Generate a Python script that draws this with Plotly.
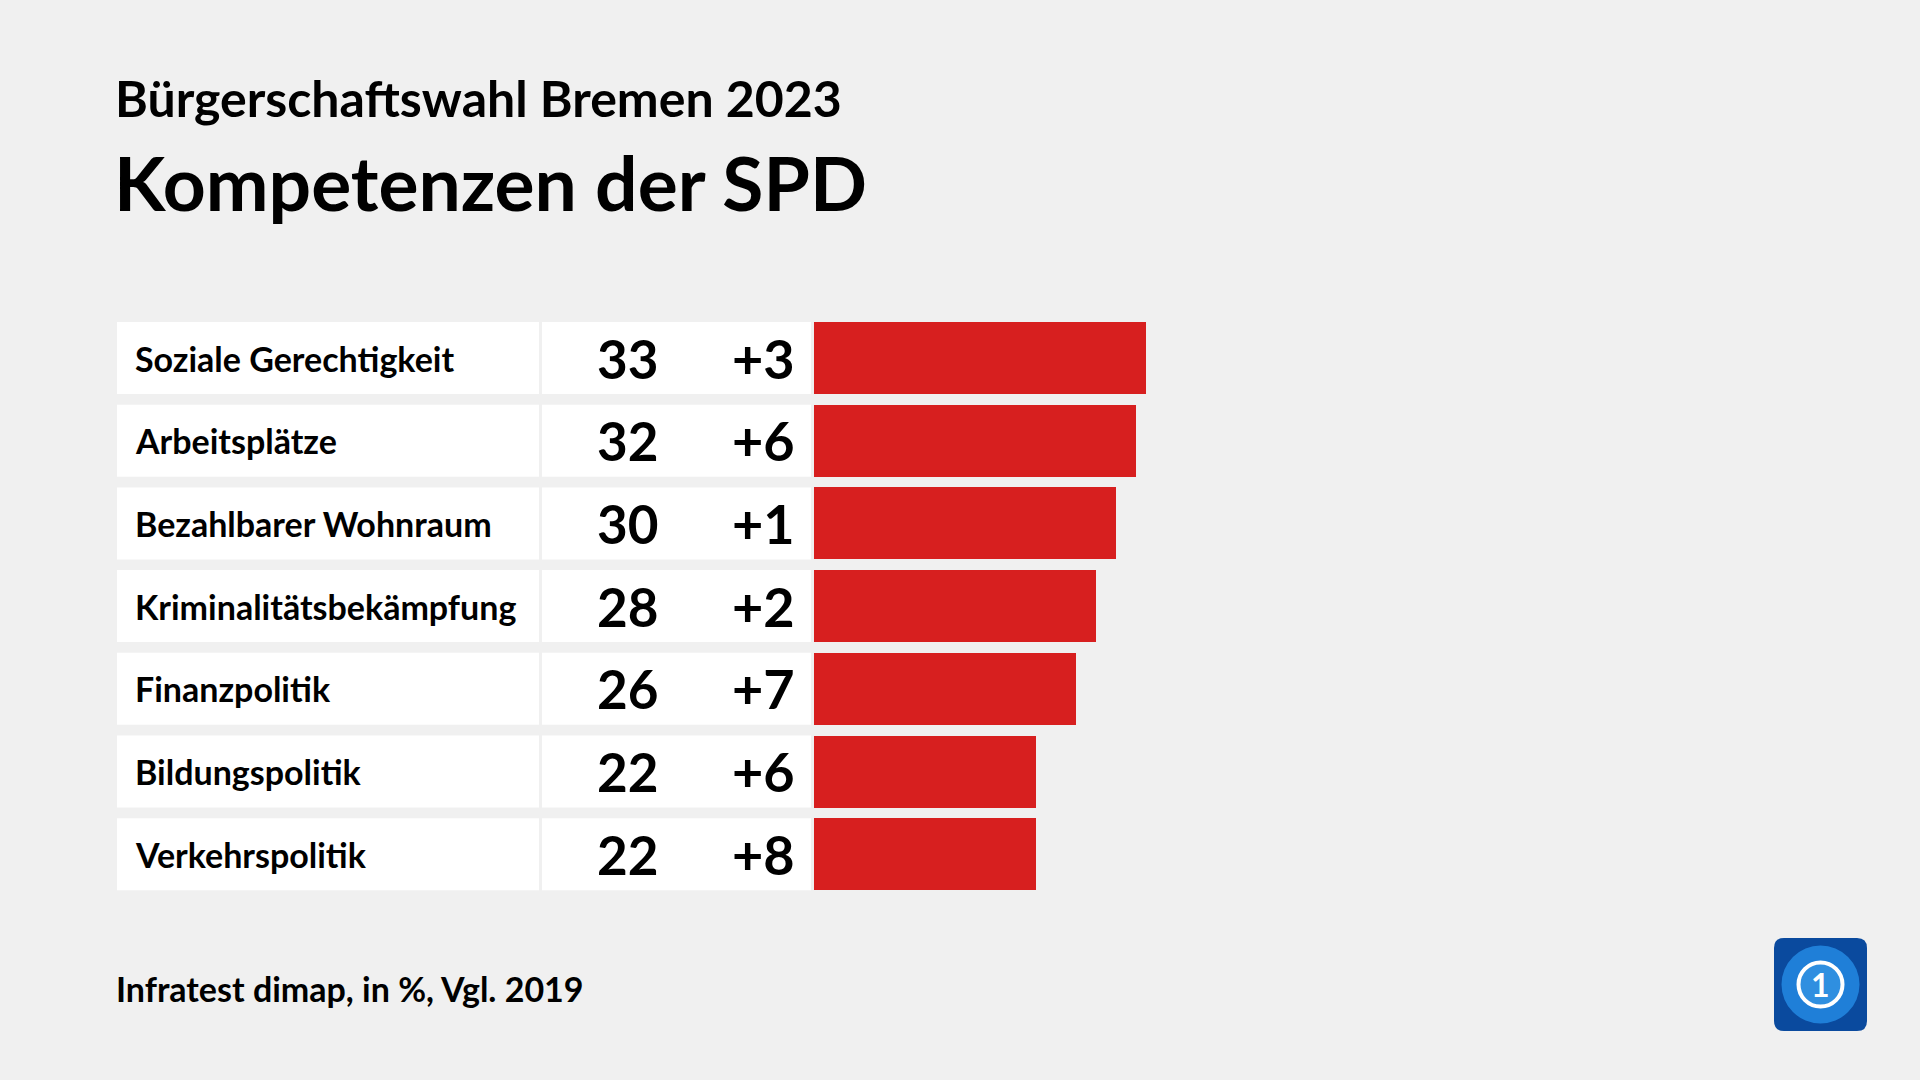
import plotly.graph_objects as go

# ---- data ----
categories = ["Soziale Gerechtigkeit", "Arbeitsplätze", "Bezahlbarer Wohnraum",
              "Kriminalitätsbekämpfung", "Finanzpolitik", "Bildungspolitik", "Verkehrspolitik"]
values = [33, 32, 30, 28, 26, 22, 22]
changes = ["+3", "+6", "+1", "+2", "+7", "+6", "+8"]

title_top = "Bürgerschaftswahl Bremen 2023"
title_main = "Kompetenzen der SPD"
footer = "Infratest dimap, in %, Vgl. 2019"

# ---- layout constants (pixels) ----
W, H = 1920, 1080
BG = "#f0f0f0"
RED = "#d71f1f"
FONT = "Lato"
pitch = 82.7
first_center = 358
bar_h = 72 / pitch
x0_px = 814
px_per_unit = 10.07

def px(x):
    return x / W

def py(y):
    return 1 - y / H

idx = list(range(len(categories)))

fig = go.Figure()
fig.add_trace(go.Bar(
    x=values, y=idx, orientation="h", width=bar_h,
    marker=dict(color=RED, line=dict(width=0)),
    hoverinfo="skip", showlegend=False,
))

shapes = []
annotations = []
for i, (cat, v, ch) in enumerate(zip(categories, values, changes)):
    for (a, b) in [(117, 539), (542, 811)]:
        shapes.append(dict(type="rect", xref="paper", yref="y",
                           x0=px(a), x1=px(b), y0=i - bar_h / 2, y1=i + bar_h / 2,
                           fillcolor="white", line=dict(width=0), layer="below"))
    annotations.append(dict(text=cat, xref="paper", yref="y", x=px(133), y=i,
                            xanchor="left", yanchor="middle", showarrow=False,
                            font=dict(family=FONT, size=34, color="black", weight="bold")))
    annotations.append(dict(text=str(v), xref="paper", yref="y", x=px(660), y=i,
                            xanchor="right", yanchor="middle", showarrow=False,
                            font=dict(family=FONT, size=53, color="black", weight="bold")))
    annotations.append(dict(text=ch, xref="paper", yref="y", x=px(797), y=i,
                            xanchor="right", yanchor="middle", showarrow=False,
                            font=dict(family=FONT, size=54, color="black", weight="bold")))

annotations.append(dict(text=title_top, xref="paper", yref="paper", x=px(113), y=py(98),
                        xanchor="left", yanchor="middle", showarrow=False,
                        font=dict(family=FONT, size=50, color="black", weight="bold")))
annotations.append(dict(text=title_main, xref="paper", yref="paper", x=px(112), y=py(182),
                        xanchor="left", yanchor="middle", showarrow=False,
                        font=dict(family=FONT, size=75, color="black", weight="bold")))
annotations.append(dict(text=footer, xref="paper", yref="paper", x=px(114), y=py(988),
                        xanchor="left", yanchor="middle", showarrow=False,
                        font=dict(family=FONT, size=34, color="black", weight="bold")))

# ---- logo ----
lx0, lx1, ly0, ly1, r = 1774, 1867, 938, 1031, 10
path = (f"M {px(lx0 + r)},{py(ly0)} L {px(lx1 - r)},{py(ly0)} "
        f"Q {px(lx1)},{py(ly0)} {px(lx1)},{py(ly0 + r)} "
        f"L {px(lx1)},{py(ly1 - r)} Q {px(lx1)},{py(ly1)} {px(lx1 - r)},{py(ly1)} "
        f"L {px(lx0 + r)},{py(ly1)} Q {px(lx0)},{py(ly1)} {px(lx0)},{py(ly1 - r)} "
        f"L {px(lx0)},{py(ly0 + r)} Q {px(lx0)},{py(ly0)} {px(lx0 + r)},{py(ly0)} Z")
shapes.append(dict(type="path", xref="paper", yref="paper", path=path,
                   fillcolor="#0a4a9e", line=dict(width=0)))
cx, cy = (lx0 + lx1) / 2, (ly0 + ly1) / 2
shapes.append(dict(type="circle", xref="paper", yref="paper",
                   x0=px(cx - 39), x1=px(cx + 39), y0=py(cy + 39), y1=py(cy - 39),
                   fillcolor="#1f7fd8", line=dict(width=0)))
shapes.append(dict(type="circle", xref="paper", yref="paper",
                   x0=px(cx - 22), x1=px(cx + 22), y0=py(cy + 22), y1=py(cy - 22),
                   fillcolor="#2f8fe0", line=dict(width=4, color="white")))
annotations.append(dict(text="1", xref="paper", yref="paper", x=px(cx), y=py(cy),
                        xanchor="center", yanchor="middle", showarrow=False,
                        font=dict(family=FONT, size=32, color="white", weight="bold")))

y_top = -first_center / pitch
y_bot = (H - first_center) / pitch

fig.update_layout(
    width=W, height=H,
    margin=dict(l=0, r=0, t=0, b=0),
    paper_bgcolor=BG, plot_bgcolor=BG,
    xaxis=dict(range=[0, 100], domain=[px(x0_px), px(x0_px + 100 * px_per_unit)],
               showgrid=False, zeroline=False, showticklabels=False, fixedrange=True),
    yaxis=dict(range=[y_bot, y_top], showgrid=False, zeroline=False,
               showticklabels=False, fixedrange=True),
    shapes=shapes, annotations=annotations,
    bargap=0,
)

fig.write_html("out.html", config={"displayModeBar": False},
               post_script="document.body.style.margin='0';")
